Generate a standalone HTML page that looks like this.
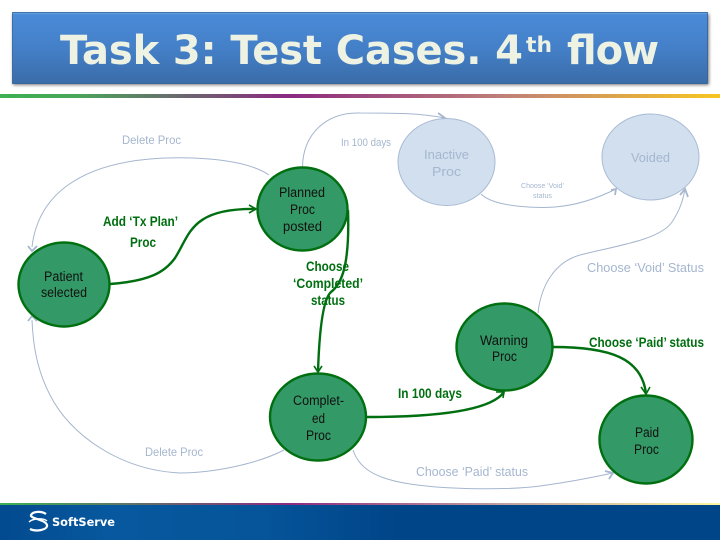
<!DOCTYPE html>
<html><head><meta charset="utf-8"><style>
html,body{margin:0;padding:0;background:#fff;width:720px;height:540px;overflow:hidden}
svg{display:block}
text{font-family:"Liberation Sans",sans-serif;text-anchor:start}
.l{fill:#a5b6cf;font-size:13px}
.d{fill:#111;font-size:13.5px}
.g{fill:#006f10;font-size:13.5px;font-weight:bold}
</style></head><body>
<svg width="720" height="540" viewBox="0 0 720 540" xmlns="http://www.w3.org/2000/svg">
<defs>
<linearGradient id="t" x1="0" y1="0" x2="0" y2="1"><stop offset="0" stop-color="#6aa8e4"/><stop offset="0.03" stop-color="#4a8ad8"/><stop offset="0.5" stop-color="#4480c8"/><stop offset="1" stop-color="#3a6ca8"/></linearGradient>
<linearGradient id="b" x1="0" y1="0" x2="1" y2="0"><stop offset="0" stop-color="#3cb053"/><stop offset="0.1" stop-color="#48a85a"/><stop offset="0.4" stop-color="#8b2a80"/><stop offset="0.7" stop-color="#c08078"/><stop offset="1" stop-color="#f8c620"/></linearGradient>
<linearGradient id="b2" x1="0" y1="0" x2="1" y2="0"><stop offset="0" stop-color="#3cb053"/><stop offset="0.4" stop-color="#8b2a80"/><stop offset="0.7" stop-color="#c0a0a0"/><stop offset="1" stop-color="#fff7a0"/></linearGradient>
<linearGradient id="f" x1="0" y1="0" x2="1" y2="0"><stop offset="0" stop-color="#034a90"/><stop offset="0.15" stop-color="#07589e"/><stop offset="0.35" stop-color="#06559b"/><stop offset="0.55" stop-color="#004588"/><stop offset="1" stop-color="#004588"/></linearGradient>
<filter id="s" x="-5%" y="-10%" width="110%" height="125%"><feGaussianBlur stdDeviation="1.5"/></filter>
</defs>

<rect x="13" y="14" width="696" height="71" fill="#777" filter="url(#s)"/>
<rect x="12.5" y="12.5" width="695" height="71" fill="url(#t)" stroke="#2f5f96" stroke-width="0.8"/>
<text x="60" y="64" textLength="463" lengthAdjust="spacing" style="font-family:'DejaVu Sans',sans-serif;font-weight:bold;font-size:40px;fill:#eef2e2">Task 3: Test Cases. 4</text>
<text x="526" y="52" textLength="26" lengthAdjust="spacingAndGlyphs" style="font-family:'DejaVu Sans',sans-serif;font-weight:bold;font-size:21px;fill:#eef2e2">th</text>
<text x="566" y="64" textLength="92" lengthAdjust="spacing" style="font-family:'DejaVu Sans',sans-serif;font-weight:bold;font-size:40px;fill:#eef2e2">flow</text>

<rect x="0" y="94" width="720" height="4" fill="url(#b)"/>
<rect x="0" y="503" width="720" height="37" fill="url(#f)"/>
<rect x="0" y="503" width="720" height="2" fill="url(#b2)"/>

<g fill="none" stroke="#a5b6cf" stroke-width="1">
<path d="M269 175C240 155 170 157 150 159C80 165 38 195 32 247"/>
<path d="M302.5 167C303 135 325 112 360 113C395 113 420 113 445 118"/>
<path d="M481 194C495 208 540 208 555 207C580 205 600 197 616 189"/>
<path d="M538 313C541 285 555 262 580 255C615 246 660 240 672 222C680 210 683 200 685 189"/>
<path d="M284 450C255 465 210 473 180 473C120 470 70 435 50 395C37 370 33 345 32 320"/>
<path d="M353 450C358 465 370 478 410 484C450 490 510 490 540 486C570 482 590 478 613 473"/>
</g>
<g fill="none" stroke="#a5b6cf" stroke-width="1.8">
<path d="M28 246L32 251L37 246"/>
<path d="M28 321L32 316L37 321"/>
<path d="M438 113L445 118L437 121"/>
<path d="M611 190L616 189L615 195"/>
<path d="M680 195L685 189L688 197"/>
<path d="M605 471L613 473L609 479"/>
</g>

<g fill="#d2dfef" stroke="#a9bbd4" stroke-width="1">
<ellipse cx="446.5" cy="162" rx="48.5" ry="43.5"/>
<ellipse cx="650.5" cy="157" rx="48.5" ry="43"/>
</g>
<g fill="#339966" stroke="#006f10" stroke-width="2.4">
<ellipse cx="64" cy="284.5" rx="45.5" ry="42"/>
<ellipse cx="302.5" cy="209" rx="45" ry="41.5"/>
<ellipse cx="318" cy="417" rx="48" ry="43.5"/>
<ellipse cx="504.5" cy="347" rx="48" ry="43.5"/>
<ellipse cx="646" cy="439.5" rx="46.5" ry="44"/>
</g>

<text class="l" x="122" y="144" textLength="59" lengthAdjust="spacingAndGlyphs" style="font-size:12px">Delete Proc</text>
<text class="l" x="341" y="146" textLength="50" lengthAdjust="spacingAndGlyphs" style="font-size:11px">In 100 days</text>
<text class="l" x="424" y="159" textLength="45" lengthAdjust="spacingAndGlyphs">Inactive</text>
<text class="l" x="432" y="176" textLength="29" lengthAdjust="spacingAndGlyphs">Proc</text>
<text class="l" x="631" y="162" textLength="39" lengthAdjust="spacingAndGlyphs">Voided</text>
<text class="l" x="521" y="188" textLength="43" lengthAdjust="spacingAndGlyphs" style="font-size:7.5px">Choose ‘Void’</text>
<text class="l" x="533" y="198" textLength="19" lengthAdjust="spacingAndGlyphs" style="font-size:7.5px">status</text>
<text class="l" x="587" y="272" textLength="117" lengthAdjust="spacingAndGlyphs" style="font-size:12.5px">Choose ‘Void’ Status</text>
<text class="l" x="145" y="456" textLength="58" lengthAdjust="spacingAndGlyphs" style="font-size:12px">Delete Proc</text>
<text class="l" x="416" y="476" textLength="112" lengthAdjust="spacingAndGlyphs" style="font-size:12.5px">Choose ‘Paid’ status</text>

<text class="g" x="103" y="226" textLength="75" lengthAdjust="spacingAndGlyphs">Add ‘Tx Plan’</text>
<text class="g" x="130" y="247" textLength="26" lengthAdjust="spacingAndGlyphs">Proc</text>
<text class="g" x="306" y="271" textLength="43" lengthAdjust="spacingAndGlyphs">Choose</text>
<text class="g" x="293" y="288" textLength="70" lengthAdjust="spacingAndGlyphs">‘Completed’</text>
<text class="g" x="311" y="305" textLength="34" lengthAdjust="spacingAndGlyphs">status</text>
<text class="g" x="398" y="398" textLength="64" lengthAdjust="spacingAndGlyphs">In 100 days</text>
<text class="g" x="589" y="347" textLength="115" lengthAdjust="spacingAndGlyphs">Choose ‘Paid’ status</text>

<text class="d" x="44" y="281" textLength="39" lengthAdjust="spacingAndGlyphs">Patient</text>
<text class="d" x="41" y="297" textLength="46" lengthAdjust="spacingAndGlyphs">selected</text>
<text class="d" x="279" y="197" textLength="46" lengthAdjust="spacingAndGlyphs">Planned</text>
<text class="d" x="290" y="214" textLength="25" lengthAdjust="spacingAndGlyphs">Proc</text>
<text class="d" x="283" y="231" textLength="39" lengthAdjust="spacingAndGlyphs">posted</text>
<text class="d" x="293" y="405" textLength="51" lengthAdjust="spacingAndGlyphs">Complet-</text>
<text class="d" x="312" y="423" textLength="13" lengthAdjust="spacingAndGlyphs">ed</text>
<text class="d" x="306" y="440" textLength="25" lengthAdjust="spacingAndGlyphs">Proc</text>
<text class="d" x="480" y="345" textLength="48" lengthAdjust="spacingAndGlyphs">Warning</text>
<text class="d" x="492" y="361" textLength="25" lengthAdjust="spacingAndGlyphs">Proc</text>
<text class="d" x="635" y="437" textLength="24" lengthAdjust="spacingAndGlyphs">Paid</text>
<text class="d" x="634" y="454" textLength="25" lengthAdjust="spacingAndGlyphs">Proc</text>

<g fill="none" stroke="#006f10" stroke-width="2.4">
<path d="M110 284C150 281 165 272 175 258C190 235 190 208 256 209"/>
<path d="M348 210C350 270 340 285 331 292C322 300 319 340 318 372"/>
<path d="M367 417C430 417 490 412 504 392"/>
<path d="M553 347C610 347 642 358 646 394"/>
</g>
<g fill="none" stroke="#006f10" stroke-width="1.6">
<path d="M249 205L256 209L249 213"/>
<path d="M314 366L318 372L322 366"/>
<path d="M496 392L504 392L503 398"/>
<path d="M641 387L646 394L650 387"/>
</g>

<g fill="none" stroke="#fff" stroke-width="2.2">
<path d="M46 514C42 511 33 511 31 515C30 519 45 519 47 525C48 530 36 532 30 529"/>
<path d="M29 522C33 518 44 518 47 521" stroke-width="1.4"/>
</g>
<text x="52" y="526" textLength="63" lengthAdjust="spacingAndGlyphs" style="font-family:'DejaVu Sans',sans-serif;font-weight:bold;font-size:11.5px;fill:#fff">SoftServe</text>
</svg>
</body></html>
